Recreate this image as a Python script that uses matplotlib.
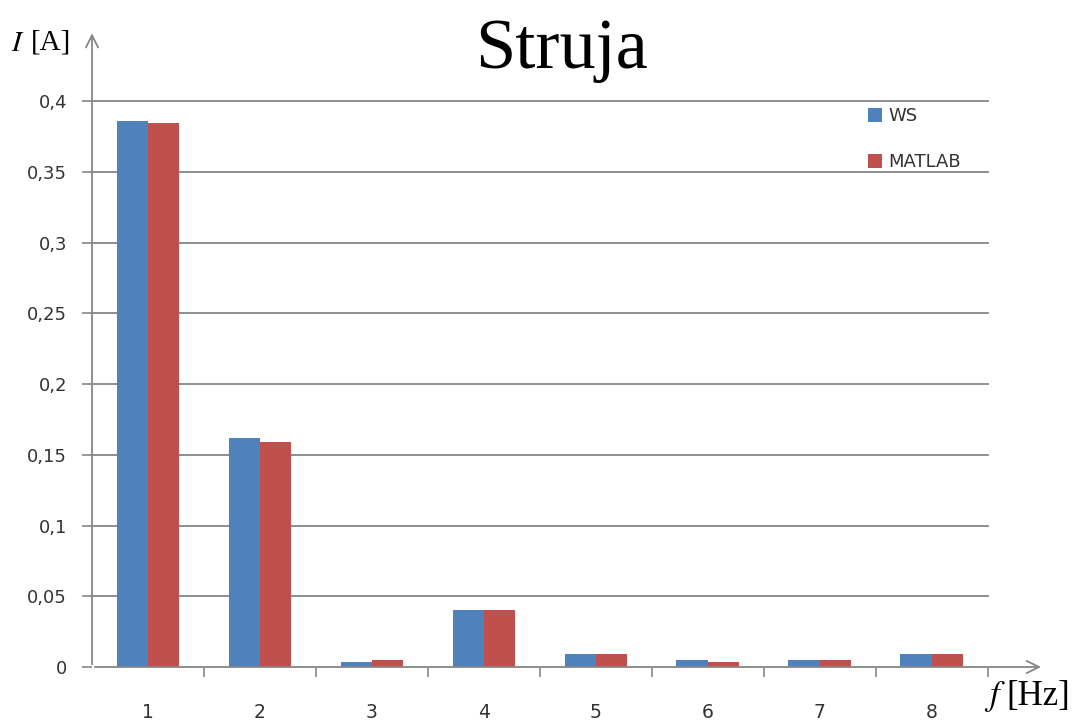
import numpy as np
import matplotlib
matplotlib.use("Agg")
import matplotlib.pyplot as plt
from matplotlib.ticker import FuncFormatter

categories = [1, 2, 3, 4, 5, 6, 7, 8]
ws = [0.386, 0.162, 0.0033, 0.0405, 0.009, 0.005, 0.005, 0.009]
matlab = [0.3848, 0.159, 0.005, 0.0405, 0.009, 0.0036, 0.005, 0.009]
y_ticks = [0, 0.05, 0.1, 0.15, 0.2, 0.25, 0.3, 0.35, 0.4]

blue = "#4F81BD"
red = "#C0504D"
axis_gray = "#868686"

fig = plt.figure(figsize=(10.79, 7.25), dpi=100)
ax = fig.add_axes([0.0853, 0.08, 0.882, 0.878])

x = np.arange(len(categories)) + 1
w = 0.28
ax.bar(x - w / 2, ws, w, color=blue, label="WS", zorder=3)
ax.bar(x + w / 2, matlab, w, color=red, label="MATLAB", zorder=3)

# gridlines only over the category range
for yv in y_ticks[1:]:
    ax.plot([0.5, 8.5], [yv, yv], color=axis_gray, lw=1.3, zorder=1)

ax.set_xlim(0.5, 9.0)
ax.set_ylim(0, 0.45)

for s in ["top", "right", "bottom", "left"]:
    ax.spines[s].set_visible(False)

# axes with arrow heads
ax.annotate("", xy=(9.0, 0), xytext=(0.5, 0),
            arrowprops=dict(arrowstyle="->", color=axis_gray, lw=1.3,
                            mutation_scale=22), annotation_clip=False)
ax.annotate("", xy=(0.5, 0.45), xytext=(0.5, 0),
            arrowprops=dict(arrowstyle="->", color=axis_gray, lw=1.3,
                            mutation_scale=22), annotation_clip=False)

ax.set_yticks(y_ticks)
ax.yaxis.set_major_formatter(FuncFormatter(lambda v, p: ("%g" % round(v, 2)).replace(".", ",")))
ax.tick_params(axis="y", length=7, color=axis_gray, width=1.2, labelsize=13,
               labelcolor="#333333", pad=11)

ax.set_xticks(x)
ax.set_xticklabels([str(c) for c in categories])
ax.set_xticks(np.arange(1.5, 9.0, 1.0), minor=True)
ax.tick_params(axis="x", which="major", length=0, labelsize=13.5,
               labelcolor="#333333", pad=26)
ax.tick_params(axis="x", which="minor", length=7, color=axis_gray, width=1.2)

fig.text(0.52, 0.931, "Struja", ha="center", va="center",
         family="Liberation Serif", fontsize=52)
fig.text(0.010, 0.941, "$\\mathit{I}$", ha="left", va="center",
         fontsize=21, math_fontfamily="stix")
fig.text(0.029, 0.941, "[A]", ha="left", va="center",
         family="Liberation Serif", fontsize=21)
fig.text(0.912, 0.04, "$\\mathit{f}$", ha="left", va="center",
         fontsize=25, math_fontfamily="stix")
fig.text(0.933, 0.04, "[Hz]", ha="left", va="center",
         family="Liberation Serif", fontsize=25)

ax.legend(loc="upper left", bbox_to_anchor=(0.8044, 0.8524),
          bbox_transform=fig.transFigure, borderaxespad=0, borderpad=0,
          frameon=False, fontsize=13, handlelength=0.8, handleheight=0.8,
          handletextpad=0.35, labelspacing=1.55, labelcolor="#333333")

fig.savefig("out.png", dpi=100, facecolor="white")
